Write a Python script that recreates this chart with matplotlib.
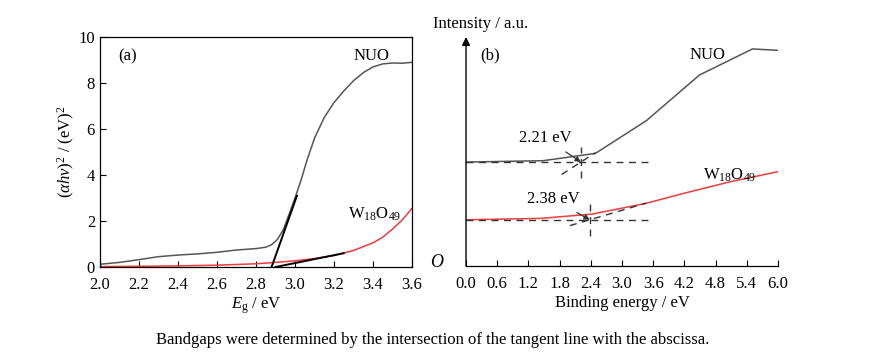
import numpy as np
import matplotlib
matplotlib.use("Agg")
import matplotlib.pyplot as plt

plt.rcParams['font.family'] = ['Liberation Serif', 'DejaVu Serif']
plt.rcParams['mathtext.fontset'] = 'custom'
plt.rcParams['mathtext.rm'] = 'Liberation Serif'
plt.rcParams['mathtext.it'] = 'Liberation Serif:italic'

# (a) Tauc plot
eg = [2.0, 2.1, 2.2, 2.3, 2.4, 2.5, 2.6, 2.7, 2.8, 2.85, 2.88, 2.91, 2.94, 2.97,
      3.0, 3.03, 3.06, 3.1, 3.15, 3.2, 3.25, 3.3, 3.35, 3.4, 3.45, 3.5, 3.55, 3.6]
nuo_a = [0.12, 0.2, 0.32, 0.45, 0.52, 0.57, 0.64, 0.74, 0.8, 0.86, 0.97, 1.2, 1.62, 2.3,
         3.0, 3.75, 4.6, 5.6, 6.5, 7.15, 7.65, 8.1, 8.45, 8.7, 8.83, 8.87, 8.86, 8.9]
eg_w = [2.0, 2.2, 2.4, 2.6, 2.8, 2.9, 3.0, 3.1, 3.2, 3.3, 3.4, 3.45, 3.5, 3.55, 3.6]
w_a = [0.02, 0.03, 0.05, 0.08, 0.14, 0.2, 0.27, 0.37, 0.5, 0.72, 1.05, 1.3, 1.65, 2.05, 2.55]
tan_nuo_x = [2.88, 3.01]
tan_nuo_y = [0.0, 3.1]
tan_w_x = [2.9, 3.25]
tan_w_y = [0.0, 0.6]

# (b) valence band XPS
be_nuo = [0.0, 1.48, 2.49, 3.47, 4.49, 5.51, 6.0]
nuo_b = [4.54, 4.6, 4.92, 6.35, 8.34, 9.48, 9.42]
be_w = [0.0, 1.43, 2.43, 3.47, 4.18, 5.08, 6.0]
w_b = [2.02, 2.08, 2.27, 2.74, 3.17, 3.68, 4.12]
gap_nuo = 2.21
gap_w = 2.38
base_nuo = 4.54
base_w = 2.02
slope_nuo = 1.46
slope_w = 0.67

fig = plt.figure(figsize=(8.87, 3.6), dpi=100)
axa = fig.add_axes([0.1127, 0.2583, 0.3518, 0.6389])
axb = fig.add_axes([0.5254, 0.261, 0.3516, 0.6361])

gray = '#555555'
red = '#ee3b3b'

# ---- panel (a)
axa.plot(eg, nuo_a, color=gray, lw=1.1)
axa.plot(eg_w, w_a, color=red, lw=1.1)
axa.plot(tan_nuo_x, tan_nuo_y, color='black', lw=1.4)
axa.plot(tan_w_x, tan_w_y, color='black', lw=1.4)
axa.set_xlim(2.0, 3.6)
axa.set_ylim(0, 10)
axa.set_xticks(np.arange(2.0, 3.61, 0.2))
axa.set_xticklabels([f'{v:.1f}' for v in np.arange(2.0, 3.61, 0.2)])
axa.set_yticks([0, 2, 4, 6, 8, 10])
axa.tick_params(direction='in', labelsize=12, length=4, width=0.8)
axa.tick_params(axis='x', pad=7)
for s in axa.spines.values():
    s.set_linewidth(0.9)
axa.set_xlabel(r'$E_{\rm g}$ / eV', fontsize=12, labelpad=2)
axa.set_ylabel(r'$(\alpha h\nu)^2$ / (eV)$^2$', fontsize=12, labelpad=1)
axa.text(2.14, 9.17, '(a)', fontsize=12, ha='center', va='center')
axa.text(3.39, 9.17, 'NUO', fontsize=12, ha='center', va='center')
axa.text(3.41, 2.3, r'W$_{18}$O$_{49}$', fontsize=12, ha='center', va='center')

# ---- panel (b)
axb.plot(be_nuo, nuo_b, color=gray, lw=1.1)
axb.plot(be_w, w_b, color=red, lw=1.1)
dash = dict(color='#333333', lw=1.0, ls=(0, (5, 4)))
axb.plot([0, 3.5], [base_nuo, base_nuo], **dash)
axb.plot([0, 3.5], [base_w, base_w], **dash)
axb.plot([gap_nuo, gap_nuo], [3.83, 5.21], **dash)
axb.plot([gap_w, gap_w], [1.31, 2.71], **dash)
xt = np.array([1.84, 2.49])
axb.plot(xt, base_nuo + slope_nuo * (xt - gap_nuo), **dash)
xt = np.array([2.0, 3.47])
axb.plot(xt, base_w + slope_w * (xt - gap_w), **dash)
axb.annotate('2.21 eV', xy=(gap_nuo, base_nuo), xytext=(1.52, 5.59), fontsize=12,
             ha='center', va='center',
             arrowprops=dict(arrowstyle='-|>', color='#333333', lw=0.9,
                             shrinkA=4, shrinkB=0, mutation_scale=8))
axb.annotate('2.38 eV', xy=(gap_w, base_w), xytext=(1.67, 2.92), fontsize=12,
             ha='center', va='center',
             arrowprops=dict(arrowstyle='-|>', color='#333333', lw=0.9,
                             shrinkA=4, shrinkB=0, mutation_scale=8))
axb.set_xlim(0, 6.0)
axb.set_ylim(0, 10)
axb.set_xticks(np.arange(0, 6.01, 0.6))
axb.set_xticklabels([f'{v:.1f}' for v in np.arange(0, 6.01, 0.6)])
axb.set_yticks([])
axb.tick_params(direction='in', labelsize=12, length=4, width=0.8, pad=7)
axb.spines['top'].set_visible(False)
axb.spines['right'].set_visible(False)
axb.spines['left'].set_visible(False)
axb.spines['bottom'].set_linewidth(0.9)
axb.annotate('', xy=(0, 1.0), xytext=(0, 0), xycoords='axes fraction',
             arrowprops=dict(arrowstyle='-|>', color='black', lw=1.0,
                             shrinkA=0, shrinkB=0, mutation_scale=12))
axb.set_xlabel('Binding energy / eV', fontsize=12, labelpad=2)
axb.text(0.46, 9.2, '(b)', fontsize=12, ha='center', va='center')
axb.text(4.65, 9.2, 'NUO', fontsize=12, ha='center', va='center')
axb.text(5.08, 3.97, r'W$_{18}$O$_{49}$', fontsize=12, ha='center', va='center')
fig.text(0.488, 0.933, 'Intensity / a.u.', fontsize=12, ha='left', va='center')
fig.text(0.4925, 0.27, 'O', fontsize=13, style='italic', ha='center', va='center')

fig.text(0.488, 0.055, 'Bandgaps were determined by the intersection of the tangent line with the abscissa.',
         fontsize=12, ha='center', va='center')

fig.savefig('out.png', dpi=100)
